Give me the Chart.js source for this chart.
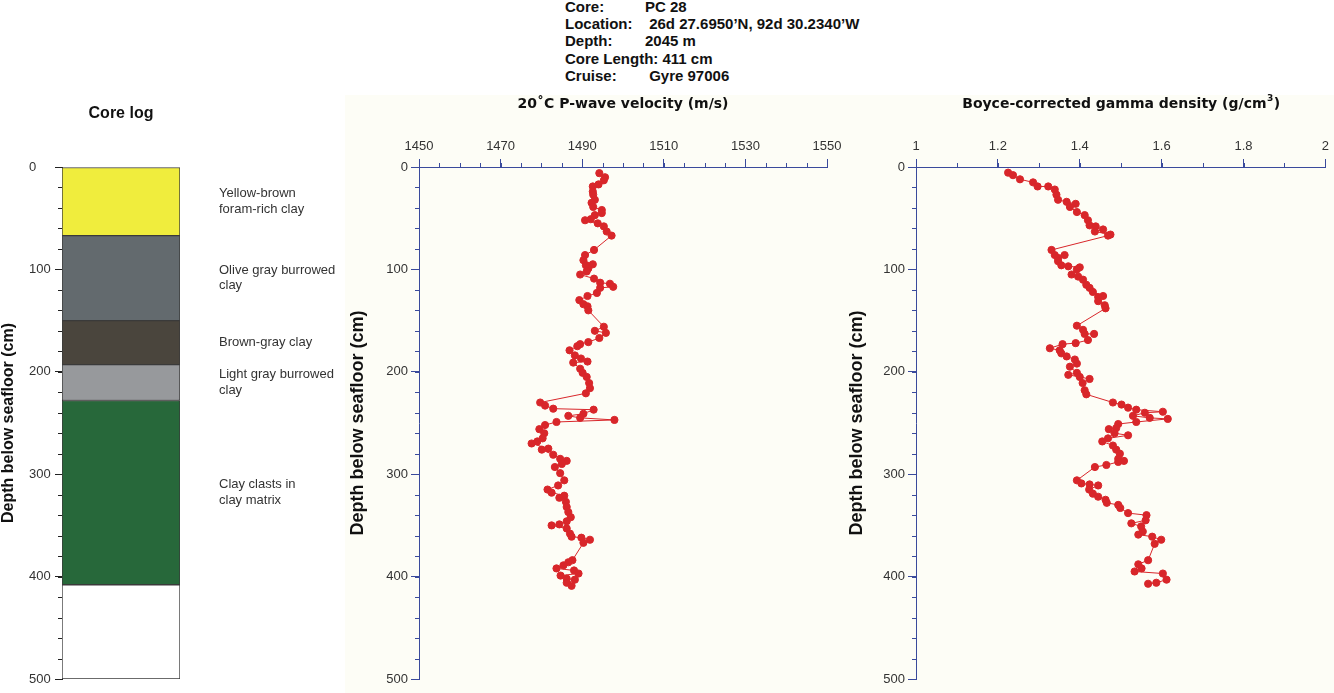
<!DOCTYPE html>
<html>
<head>
<meta charset="utf-8">
<script src="https://cdn.jsdelivr.net/npm/chart.js@4"></script>
<style>
  body { margin: 0; width: 1334px; height: 693px; background: #fff; position: relative; overflow: hidden;
         font-family: "Liberation Sans", Arial, sans-serif; }
  #cream { position: absolute; left: 345px; top: 95px; right: 0; bottom: 0; background: #fdfdf6; }
  #header { position: absolute; left: 565px; top: -2px; font-weight: bold; font-size: 15px; line-height: 17.2px; color: #111; }
  #header span { display: inline-block; width: 80px; }
  canvas { position: absolute; top: 90px; }
</style>
</head>
<body>
<div id="cream"></div>
<div id="header">
  <div><span>Core:</span>PC 28</div>
  <div><span>Location:</span> 26d 27.6950’N, 92d 30.2340’W</div>
  <div><span>Depth:</span>2045 m</div>
  <div>Core Length: 411 cm</div>
  <div><span>Cruise:</span> Gyre 97006</div>
</div>
<canvas id="coreLog" width="345" height="603" style="left:0"></canvas>
<canvas id="pwave" width="505" height="603" style="left:345px"></canvas>
<canvas id="density" width="488" height="603" style="left:846px"></canvas>
<script>
// core log layers (cm)
const layerNames = ['Yellow-brown\nforam-rich clay', 'Olive gray burrowed\nclay', 'Brown-gray clay',
                    'Light gray burrowed\nclay', 'Clay clasts in\nclay matrix'];
const layerTop = [0, 67, 150, 193, 228];
const layerBottom = [67, 150, 193, 228, 408];
const coreBottom = 500;

// 20°C P-wave velocity
const pwDepth = [6, 10, 13, 17, 19, 24, 27, 32, 35, 39, 42, 45, 47, 51, 52, 55, 58, 63, 67,
  81, 86, 91, 95, 96, 99, 102, 105, 109, 113, 114, 117, 118, 123, 126, 130, 134, 136, 140,
  156, 160, 162, 167, 171, 173, 175, 179, 184, 187, 190, 191, 197, 201, 205, 211, 216, 221,
  230, 233, 236, 237, 241, 243, 245, 247, 249, 252, 256, 260, 265, 268, 270, 275, 276, 281, 285, 287,
  290, 293, 299, 306, 311, 315, 318, 321, 323, 327, 332, 337, 342, 346, 349, 350, 353, 358, 361, 362, 364, 367,
  384, 386, 389, 392, 394, 397, 399, 402, 403, 406, 409];
const pwVel = [1494.2, 1495.6, 1495.3, 1494.0, 1492.6, 1492.6, 1492.7, 1493.1, 1492.3, 1492.7, 1494.8, 1494.8, 1493.1, 1492.1, 1490.7, 1493.8, 1495.3, 1496.0, 1497.2,
  1492.9, 1490.7, 1490.3, 1492.6, 1490.9, 1491.5, 1491.1, 1489.5, 1492.9, 1494.4, 1496.8, 1497.6, 1494.4, 1493.6, 1491.3, 1489.3, 1490.3, 1491.3, 1491.5,
  1495.3, 1493.1, 1495.8, 1494.2, 1491.5, 1489.5, 1488.8, 1486.9, 1488.2, 1489.7, 1491.3, 1487.8, 1489.5, 1490.1, 1491.1, 1491.7, 1491.9, 1490.9,
  1479.7, 1480.9, 1482.9, 1492.8, 1490.3, 1486.6, 1489.5, 1497.9, 1483.7, 1480.9, 1479.5, 1480.7, 1480.3, 1479.0, 1477.6, 1481.7, 1480.1, 1482.9, 1484.6, 1486.2,
  1485.0, 1483.3, 1484.6, 1485.6, 1484.1, 1481.5, 1482.5, 1485.6, 1484.4, 1486.0, 1486.2, 1486.6, 1487.2, 1486.2, 1484.4, 1482.5, 1486.2, 1487.0, 1487.4, 1489.8, 1491.9, 1490.3,
  1487.6, 1486.6, 1485.4, 1483.7, 1488.0, 1489.1, 1484.7, 1486.2, 1488.2, 1486.2, 1487.4];

// Boyce-corrected gamma density
const gdDepth = [5.5, 8, 12, 15, 19, 19, 22, 27, 32, 34, 36, 39, 44, 47, 52, 57, 58, 61, 63, 66, 67,
  81, 86, 86, 89, 92, 96, 97, 98, 100, 105, 107, 110, 115, 118, 122, 126, 127, 131, 135, 138,
  155, 159, 163, 163, 169, 172, 173, 177, 179, 182, 185, 188, 192, 195, 201, 203, 205, 207, 211, 218, 222,
  230, 232, 235, 237, 239, 240, 243, 245, 246, 249, 251, 255, 256, 260, 262, 265, 268, 272, 276, 280, 285, 287, 288, 291, 293,
  306, 309, 310, 311, 315, 319, 322, 325, 328, 330, 333, 338, 340, 345, 348, 351, 356, 359, 361, 364, 368,
  384, 388, 392, 395, 397, 403, 406, 407];
const gdDens = [1.225, 1.237, 1.254, 1.286, 1.297, 1.323, 1.339, 1.343, 1.347, 1.368, 1.390, 1.376, 1.393, 1.412, 1.420, 1.424, 1.439, 1.457, 1.437, 1.475, 1.469,
  1.331, 1.339, 1.363, 1.347, 1.347, 1.355, 1.372, 1.400, 1.393, 1.380, 1.396, 1.408, 1.416, 1.424, 1.432, 1.457, 1.445, 1.445, 1.461, 1.463,
  1.393, 1.408, 1.412, 1.435, 1.420, 1.390, 1.358, 1.327, 1.351, 1.355, 1.368, 1.388, 1.393, 1.376, 1.393, 1.372, 1.400, 1.424, 1.407, 1.412, 1.416,
  1.481, 1.502, 1.518, 1.538, 1.603, 1.559, 1.530, 1.571, 1.615, 1.538, 1.494, 1.489, 1.471, 1.485, 1.518, 1.469, 1.455, 1.481, 1.489, 1.498, 1.494, 1.508, 1.494, 1.465, 1.437,
  1.393, 1.404, 1.424, 1.445, 1.423, 1.432, 1.445, 1.463, 1.466, 1.494, 1.499, 1.518, 1.563, 1.561, 1.526, 1.550, 1.554, 1.543, 1.577, 1.599, 1.583,
  1.567, 1.543, 1.551, 1.534, 1.603, 1.612, 1.587, 1.567];

const layerColors = ['#f0ed3d', '#636a6e', '#4a453d', '#97999c', '#27683a'];
const axisBlue = '#3a4a9c';
const pointRed = '#d8262a';
const fontFam = '"Liberation Sans", Arial, sans-serif';
const tickFam = '"Liberation Sans Narrow", "Liberation Sans", Arial, sans-serif';

// short minor ticks drawn on the scale edge next to the plot area
const minorTicks = {
  id: 'minorTicks',
  afterDraw(chart, args, opts) {
    const ctx = chart.ctx;
    ['x', 'y'].forEach(function(id) {
      const s = chart.scales[id];
      const step = opts[id];
      if (!s || !step || !s.options.display) return;
      ctx.save();
      ctx.strokeStyle = opts.color;
      ctx.lineWidth = 1;
      const n = Math.round((s.max - s.min) / step);
      for (let i = 0; i <= n; i++) {
        const p = Math.round(s.getPixelForValue(s.min + i * step)) + 0.5;
        ctx.beginPath();
        if (s.isHorizontal()) { ctx.moveTo(p, s.bottom); ctx.lineTo(p, s.bottom - 4); }
        else { ctx.moveTo(s.right, p); ctx.lineTo(s.right - 4, p); }
        ctx.stroke();
      }
      ctx.restore();
    });
  }
};

// panel heading centred over the plot area
const panelTitle = {
  id: 'panelTitle',
  afterDraw(chart, args, opts) {
    const ctx = chart.ctx;
    const a = chart.chartArea;
    ctx.save();
    ctx.fillStyle = '#111';
    ctx.font = opts.font;
    ctx.textAlign = 'center';
    ctx.textBaseline = 'middle';
    const x = (a.left + a.right) / 2;
    if (opts.sup) {
      const w = ctx.measureText(opts.text + opts.tail).width;
      ctx.font = opts.supFont;
      const ws = ctx.measureText(opts.sup).width;
      let left = x - (w + ws) / 2;
      ctx.textAlign = 'left';
      ctx.font = opts.font;
      ctx.fillText(opts.text, left, opts.y);
      left += ctx.measureText(opts.text).width;
      ctx.font = opts.supFont;
      ctx.fillText(opts.sup, left + 0.5, opts.y - 5);
      left += ws + 1;
      ctx.font = opts.font;
      ctx.fillText(opts.tail, left, opts.y);
    } else {
      ctx.fillText(opts.text, x, opts.y);
    }
    if (opts.side) {
      ctx.font = opts.sideFont;
      ctx.textAlign = 'center';
      ctx.translate(opts.sideX, (a.top + a.bottom) / 2);
      ctx.rotate(-Math.PI / 2);
      ctx.fillText(opts.side, 0, 0);
    }
    ctx.restore();
  }
};

// lithology descriptions beside the core
const layerLabels = {
  id: 'layerLabels',
  afterDraw(chart) {
    const ctx = chart.ctx;
    const y = chart.scales.y;
    ctx.save();
    ctx.fillStyle = '#333';
    ctx.font = '13px ' + fontFam;
    ctx.textBaseline = 'middle';
    layerNames.forEach(function(name, i) {
      const lines = name.split('\n');
      const mid = y.getPixelForValue((layerTop[i] + layerBottom[i]) / 2);
      lines.forEach(function(l, j) {
        ctx.fillText(l, 219, mid + (j - (lines.length - 1) / 2) * 15.5);
      });
    });
    ctx.restore();
  }
};

Chart.defaults.font.family = fontFam;
Chart.defaults.color = '#222';

// core log as floating bars
const coreSets = layerNames.map(function(name, i) {
  return { label: name, data: [[layerTop[i], layerBottom[i]]], backgroundColor: layerColors[i] };
});
coreSets.push({ label: 'empty', data: [[layerBottom[layerBottom.length - 1], coreBottom]], backgroundColor: '#ffffff' });
coreSets.forEach(function(d) {
  d.borderColor = '#3a3a3a'; d.borderWidth = 1; d.borderSkipped = false; d.grouped = false;
  d.categoryPercentage = 1; d.barPercentage = 1;
});

new Chart(document.getElementById('coreLog'), {
  type: 'bar',
  data: { labels: ['core'], datasets: coreSets },
  plugins: [minorTicks, layerLabels, panelTitle],
  options: {
    responsive: false, animation: false,
    layout: { padding: { left: 29, right: 165, top: 77, bottom: 14 } },
    plugins: {
      legend: { display: false }, tooltip: { enabled: false }, title: { display: false },
      panelTitle: { text: 'Core log', font: 'bold 16px ' + fontFam, y: 24,
                    side: 'Depth below seafloor (cm)', sideFont: 'bold 16px ' + fontFam, sideX: 9 },
      minorTicks: { y: 20, color: '#222' }
    },
    scales: {
      x: { display: false },
      y: {
        reverse: true, min: 0, max: 500,
        afterFit: function(s) { s.width = 33; },
        ticks: { stepSize: 100, font: { size: 13 }, color: '#333', padding: 3, crossAlign: 'far' },
        grid: { drawOnChartArea: false, tickLength: 7, tickColor: '#222' },
        border: { display: true, color: '#222' }
      }
    }
  }
});

function profileChart(id, titleOpts, xs, depths, xMin, xMax, xStep, xMinor, axisW, rightPad, yTitlePad) {
  const pts = xs.map(function(v, i) { return { x: v, y: depths[i] }; });
  titleOpts.font = 'bold 14px "DejaVu Sans", Verdana, sans-serif';
  titleOpts.supFont = 'bold 9px "DejaVu Sans", Verdana, sans-serif';
  titleOpts.y = 14;
  return new Chart(document.getElementById(id), {
    type: 'scatter',
    data: { datasets: [{ data: pts, showLine: true, borderColor: pointRed, borderWidth: 1,
                         pointBackgroundColor: pointRed, pointBorderColor: pointRed, pointRadius: 3.6 }] },
    plugins: [minorTicks, panelTitle],
    options: {
      responsive: false, animation: false,
      layout: { padding: { left: 0, right: rightPad, top: 0, bottom: 14 } },
      plugins: {
        legend: { display: false }, tooltip: { enabled: false }, title: { display: false },
        panelTitle: titleOpts,
        minorTicks: { x: xMinor, y: 20, color: axisBlue }
      },
      scales: {
        x: {
          type: 'linear', position: 'top', min: xMin, max: xMax,
          afterFit: function(s) { s.height = 77; },
          ticks: { stepSize: xStep, font: { size: 13, family: tickFam }, color: '#333', padding: 5,
                   callback: function(v) { return String(+v.toFixed(1)); } },
          grid: { drawOnChartArea: false, tickLength: 8, tickColor: axisBlue },
          border: { display: true, color: axisBlue }
        },
        y: {
          reverse: true, min: 0, max: 500,
          afterFit: function(s) { s.width = axisW; },
          ticks: { stepSize: 100, font: { size: 13, family: tickFam }, color: '#333', padding: 3 },
          grid: { drawOnChartArea: false, tickLength: 8, tickColor: axisBlue },
          border: { display: true, color: axisBlue },
          title: { display: true, text: 'Depth below seafloor (cm)', color: '#111',
                   font: { size: 18, weight: 'bold', lineHeight: 1.2 }, padding: { top: yTitlePad, bottom: 0 } }
        }
      }
    }
  });
}

profileChart('pwave', { text: '20˚C P-wave velocity (m/s)' }, pwVel, pwDepth, 1450, 1550, 20, 5, 74, 23, 2);
profileChart('density', { text: 'Boyce-corrected gamma density (g/cm', sup: '3', tail: ')' },
             gdDens, gdDepth, 1, 2, 0.2, 0.1, 70, 8, 0);
</script>
</body>
</html>
